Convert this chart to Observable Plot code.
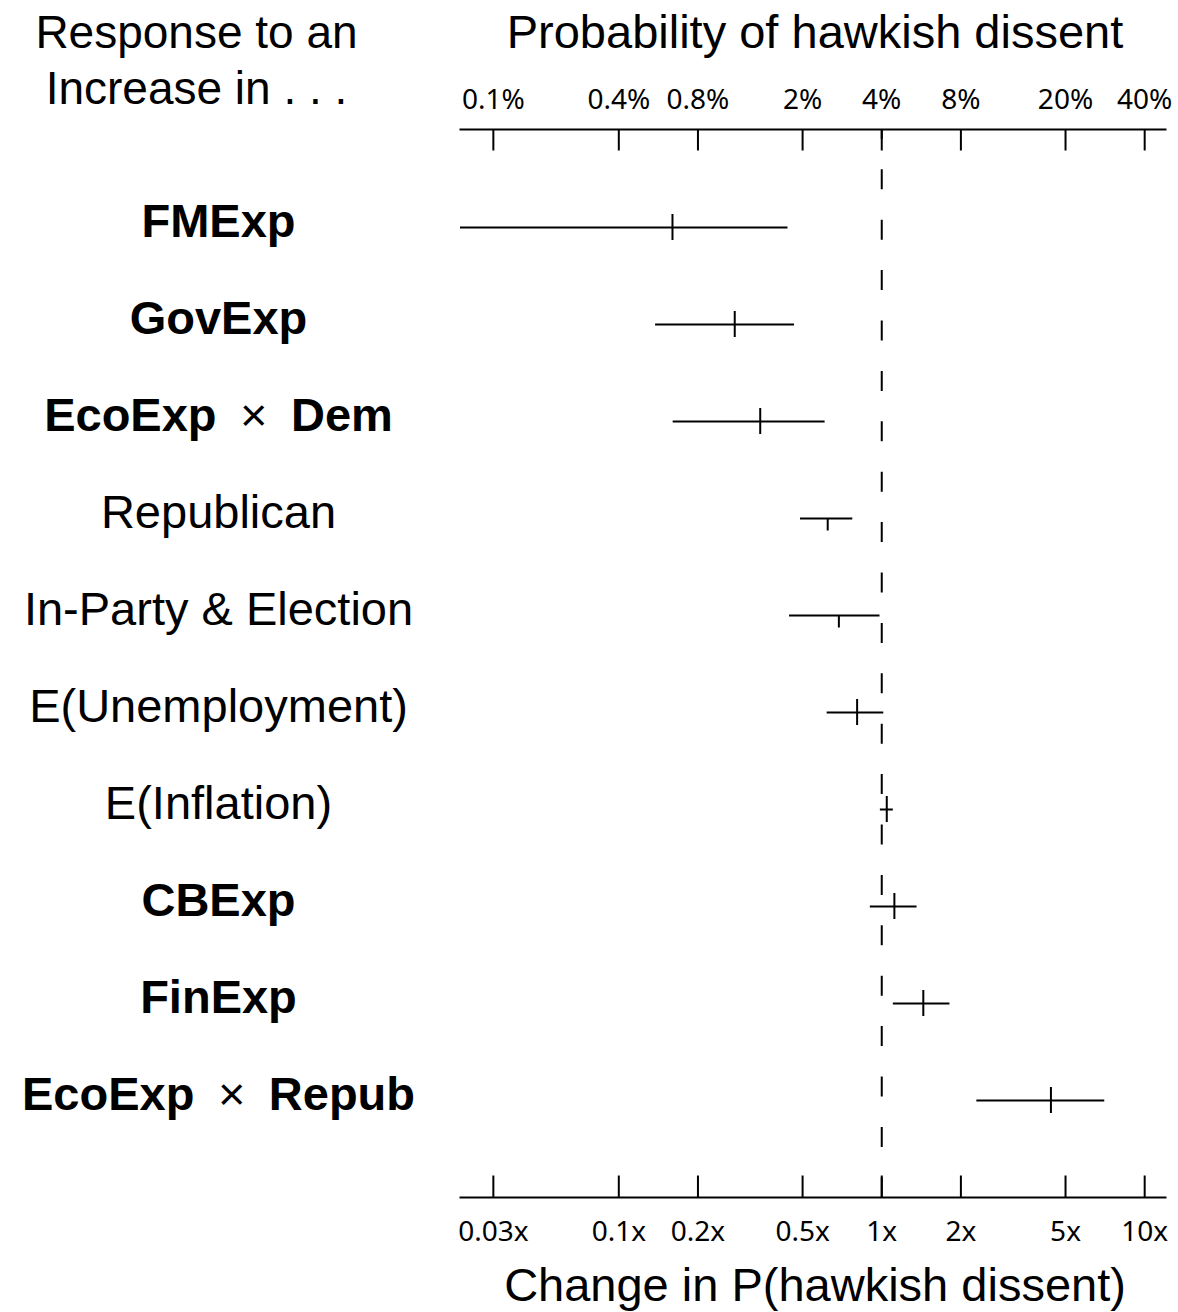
<!DOCTYPE html>
<html>
<head>
<meta charset="utf-8">
<script src="https://cdn.jsdelivr.net/npm/d3@7"></script>
<script src="https://cdn.jsdelivr.net/npm/@observablehq/plot@0.6"></script>
<style>
  body { margin: 0; background: #fff; }
  svg { display: block; }
</style>
</head>
<body>
<div id="chart"></div>
<script>
// Model terms, top to bottom
const terms = [
  "FMExp",
  "GovExp",
  "EcoExp × Dem",
  "Republican",
  "In-Party & Election",
  "E(Unemployment)",
  "E(Inflation)",
  "CBExp",
  "FinExp",
  "EcoExp × Repub"
];

// Multiplicative change in P(hawkish dissent): point estimate and interval bounds
const estimate = [0.160, 0.276, 0.345, 0.623, 0.687, 0.806, 1.045, 1.117, 1.439, 4.40];
const lower    = [0.025, 0.138, 0.161, 0.491, 0.446, 0.620, 0.988, 0.905, 1.107, 2.30];
const upper    = [0.440, 0.466, 0.609, 0.776, 0.985, 1.018, 1.107, 1.362, 1.817, 7.05];

// Terms set in bold (expertise variables)
const boldTerms = ["FMExp", "GovExp", "EcoExp × Dem", "CBExp", "FinExp", "EcoExp × Repub"];
// Terms whose estimate marker hangs below the interval line
const hangingTerms = ["Republican", "In-Party & Election"];

// Axis ticks: multiplier positions with both readings
const tickValues = [1 / 30, 0.1, 0.2, 0.5, 1, 2, 5, 10];
const multiplierLabels = ["0.03x", "0.1x", "0.2x", "0.5x", "1x", "2x", "5x", "10x"];
const probabilityLabels = ["0.1%", "0.4%", "0.8%", "2%", "4%", "8%", "20%", "40%"];
const noEffect = [1];

const rows = terms.map((term, i) => ({term, estimate: estimate[i], lower: lower[i], upper: upper[i]}));

const mainFont = "'Liberation Sans', Arial, sans-serif";
const tickFont = "'Noto Sans', 'Open Sans', sans-serif";
const labelSize = 47;
const titleSize = 47;
const tickLabelSize = 28;
const frameHeight = 1312 - 129 - 115;
const tickLength = 21.5;
const sw = 2;

const chart = Plot.plot({
  width: 1178,
  height: 1312,
  marginTop: 129,
  marginBottom: 115,
  marginLeft: 460,
  marginRight: 13,
  style: {fontFamily: mainFont, background: "white", color: "black"},
  x: {type: "log", domain: [0.025, 12], axis: null},
  y: {type: "point", domain: terms, padding: 1, axis: null},
  marks: [
    // axis lines
    Plot.frame({anchor: "top", strokeWidth: sw}),
    Plot.frame({anchor: "bottom", strokeWidth: sw}),
    // tick marks pointing into the plot
    Plot.ruleX(tickValues, {x: d => d, insetBottom: frameHeight - tickLength, strokeWidth: sw}),
    Plot.ruleX(tickValues, {x: d => d, insetTop: frameHeight - tickLength, strokeWidth: sw}),
    // tick labels
    Plot.text(tickValues, {
      x: d => d, text: (d, i) => probabilityLabels[i],
      frameAnchor: "top", lineAnchor: "bottom", dy: -21,
      fontSize: tickLabelSize, fontFamily: tickFont
    }),
    Plot.text(tickValues, {
      x: d => d, text: (d, i) => multiplierLabels[i],
      frameAnchor: "bottom", lineAnchor: "bottom", dy: 43,
      fontSize: tickLabelSize, fontFamily: tickFont
    }),
    // axis titles
    Plot.text(["Probability of hawkish dissent"], {
      text: d => d, frameAnchor: "top", lineAnchor: "bottom", dx: 2, dy: -82, fontSize: titleSize
    }),
    Plot.text(["Change in P(hawkish dissent)"], {
      text: d => d, frameAnchor: "bottom", lineAnchor: "bottom", dx: 2, dy: 103, fontSize: titleSize
    }),
    Plot.text(["Response to an\nIncrease in . . ."], {
      text: d => d, frameAnchor: "top-left", textAnchor: "middle", lineAnchor: "bottom",
      lineHeight: 1.21, dx: -264, dy: -26, fontSize: 46
    }),
    // no-effect reference line
    Plot.ruleX(noEffect, {strokeWidth: sw, strokeDasharray: "20,30.4", strokeDashoffset: 10.1}),
    // intervals
    Plot.ruleY(rows, {y: "term", x1: "lower", x2: "upper", strokeWidth: sw}),
    // estimate markers
    Plot.ruleX(rows.filter(d => !hangingTerms.includes(d.term)), {
      x: "estimate", y1: "term", y2: "term", insetTop: -13, insetBottom: -13, strokeWidth: sw
    }),
    Plot.ruleX(rows.filter(d => hangingTerms.includes(d.term)), {
      x: "estimate", y1: "term", y2: "term", insetTop: 0, insetBottom: -12.5, strokeWidth: sw
    }),
    // term labels
    Plot.text(rows.filter(d => boldTerms.includes(d.term)), {
      y: "term", text: "term", frameAnchor: "left", textAnchor: "middle",
      dx: -242, dy: -6, fontSize: labelSize, fontWeight: "bold"
    }),
    Plot.text(rows.filter(d => !boldTerms.includes(d.term)), {
      y: "term", text: "term", frameAnchor: "left", textAnchor: "middle",
      dx: -242, dy: -6, fontSize: labelSize
    })
  ]
});

// Interaction terms: the × sign is set in regular weight with wider spacing
d3.select(chart).selectAll("text").each(function () {
  const t = this.textContent;
  if (!t.includes(" × ")) return;
  const [a, b] = t.split(" × ");
  const el = d3.select(this);
  el.text(null);
  el.append("tspan").text(a);
  el.append("tspan").attr("font-weight", "normal").text("\u2002×\u2002");
  el.append("tspan").text(b);
});

document.getElementById("chart").append(chart);
</script>
</body>
</html>
